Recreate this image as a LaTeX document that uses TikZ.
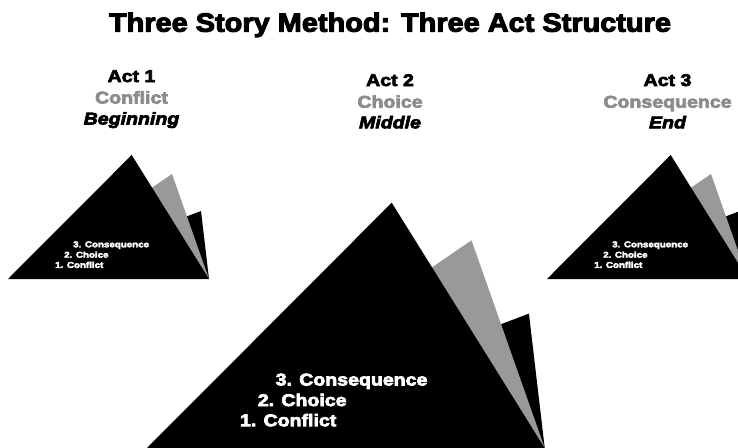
\documentclass[tikz,border=0pt]{standalone}
\usepackage{fontspec}
\newfontfamily\heavy{Liberation Sans}[FakeStretch=1.15, FakeBold=4]
\newfontfamily\heavytitle{Liberation Sans}[FakeStretch=1.1, FakeBold=4]
\definecolor{mgray}{RGB}{153,153,153}
\definecolor{tgray}{RGB}{140,140,140}
\tikzset{
  lbl/.style={inner sep=0pt, anchor=base},
  inlbl/.style={inner sep=0pt, anchor=base west, text=white},
}
\newcommand\drawmountain[5]{%
  \begin{scope}[shift={(#2,#3)}, scale=#4]
    \fill[black] (69.3,56) -- (30,71) -- (77.3,124) -- cycle;
    \fill[mgray] (40.3,19) -- (2.3,45) -- (77.3,124) -- cycle;
    \fill[black] (0,0) -- (-123.7,124) -- (77.3,124) -- cycle;
    \node[inlbl, font=\heavy\bfseries\fontsize{#5}{#5}\selectfont] (#1c3) at (-58.7,92.3) {3. Consequence};
    \node[inlbl, font=\heavy\bfseries\fontsize{#5}{#5}\selectfont] (#1c2) at (-67.7,102.7) {2. Choice};
    \node[inlbl, font=\heavy\bfseries\fontsize{#5}{#5}\selectfont] (#1c1) at (-76.7,112.9) {1. Conflict};
  \end{scope}}
\begin{document}
\begin{tikzpicture}[x=1pt, y=-1pt]
\useasboundingbox (0,0) rectangle (738,447);
\fill[white] (0,0) rectangle (738,447);
\drawmountain{m1}{131.7}{155}{1}{8.5}
\drawmountain{m2}{391.7}{202.7}{1.98}{17}
\drawmountain{m3}{670.7}{155}{1}{8.5}
\node[lbl, font=\heavytitle\bfseries\fontsize{26.3}{30}\selectfont] (title) at (390,31.7) {Three Story Method: Three Act Structure};
% Act 1
\node[lbl, font=\heavy\bfseries\fontsize{17}{20}\selectfont] (a1) at (131.5,82) {Act 1};
\node[lbl, font=\heavy\bfseries\fontsize{17}{20}\selectfont, text=tgray] (a1b) at (131.5,103.5) {Conflict};
\node[lbl, font=\heavy\bfseries\itshape\fontsize{17}{20}\selectfont] (a1c) at (131.5,124.5) {Beginning};
% Act 2
\node[lbl, font=\heavy\bfseries\fontsize{17}{20}\selectfont] (a2) at (390,86) {Act 2};
\node[lbl, font=\heavy\bfseries\fontsize{17}{20}\selectfont, text=tgray] (a2b) at (390,107.7) {Choice};
\node[lbl, font=\heavy\bfseries\itshape\fontsize{17}{20}\selectfont] (a2c) at (390,128.3) {Middle};
% Act 3
\node[lbl, font=\heavy\bfseries\fontsize{17}{20}\selectfont] (a3) at (667.5,86) {Act 3};
\node[lbl, font=\heavy\bfseries\fontsize{17}{20}\selectfont, text=tgray] (a3b) at (667.5,107.7) {Consequence};
\node[lbl, font=\heavy\bfseries\itshape\fontsize{17}{20}\selectfont] (a3c) at (667.5,128.3) {End};
\end{tikzpicture}
\end{document}
